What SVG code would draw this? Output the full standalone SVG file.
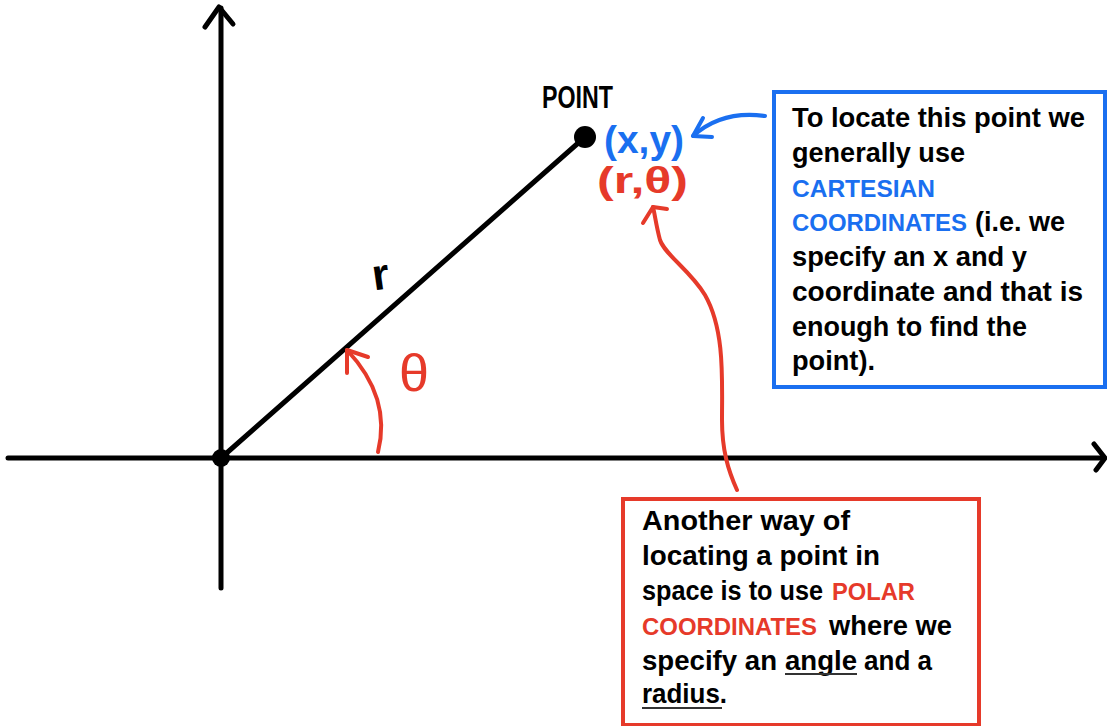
<svg xmlns="http://www.w3.org/2000/svg" width="1107" height="726" viewBox="0 0 1107 726">
<style>
.ax{stroke:#000;stroke-width:5;fill:none;stroke-linecap:round;stroke-linejoin:round}
.red{stroke:#e63a2a;stroke-width:4;fill:none;stroke-linecap:round;stroke-linejoin:round}
.blue{stroke:#1a6ff0;stroke-width:4;fill:none;stroke-linecap:round;stroke-linejoin:round}
.t{font-family:"Liberation Sans",Arial,sans-serif;font-size:27px;font-weight:700;fill:#000}
.c{font-size:24px}
.tb{fill:#1a6ff0}
.tr{fill:#e63a2a}
.ul{stroke:#333;stroke-width:2}
</style>
<rect width="1107" height="726" fill="#fff"/>
<g id="axes">
<path class="ax" d="M221,8 L221,588"/>
<path class="ax" d="M205,27 L219,7 L233,24"/>
<path class="ax" d="M8,458 L1104,458"/>
<path class="ax" d="M1094,444 L1105,458 L1096,470"/>
<circle cx="221" cy="458" r="9" fill="#000"/>
</g>
<g id="radius">
<path class="ax" d="M221,458 L585,137"/>
<text x="372" y="289" font-family="Liberation Sans,Arial,sans-serif" font-size="44" font-weight="700" fill="#000" transform="rotate(-8 384 275)">r</text>
</g>
<g id="point">
<circle cx="585" cy="137" r="11" fill="#000"/>
<text x="542" y="108" font-family="Liberation Sans,Arial,sans-serif" font-size="31" font-weight="700" textLength="71" lengthAdjust="spacingAndGlyphs">POINT</text>
<text x="604" y="153" font-family="Liberation Sans,Arial,sans-serif" font-size="38" font-weight="700" fill="#1a6ff0" textLength="80" lengthAdjust="spacingAndGlyphs">(x,y)</text>
<text x="597" y="193" font-family="Liberation Sans,Arial,sans-serif" font-size="36" font-weight="700" fill="#e63a2a" textLength="91" lengthAdjust="spacingAndGlyphs">(r,θ)</text>
</g>
<g id="angle">
<text x="399" y="391" font-family="Liberation Sans,Arial,sans-serif" font-size="52" fill="#e63a2a" textLength="30" lengthAdjust="spacingAndGlyphs">θ</text>
</g>
<g id="connectors">
<path class="red" d="M378,452 C386,420 380,385 347,350"/>
<path class="red" d="M347,373 L347,350 L368,357"/>
<path class="blue" d="M693,136 Q722,110 765,116"/>
<path class="blue" d="M703,118 L693,136 L712,137"/>
<path class="red" d="M737,490 C728,470 722,450 722,420 C722,380 725,330 705,295 C690,270 665,255 660,240 C656,225 655,215 653,207"/>
<path class="red" d="M643,223 L653,207 L667,209"/>
</g>
<g id="cartesian-box">
<rect x="774" y="92" width="331" height="295" fill="#fff" stroke="#1a6ff0" stroke-width="4"/>
<text class="t" x="792" y="127" textLength="293" lengthAdjust="spacingAndGlyphs">To locate this point we</text>
<text class="t" x="792" y="162" textLength="173" lengthAdjust="spacingAndGlyphs">generally use</text>
<text class="t c tb" x="792" y="197" textLength="143" lengthAdjust="spacingAndGlyphs">CARTESIAN</text>
<text class="t c tb" x="792" y="231" textLength="175" lengthAdjust="spacingAndGlyphs">COORDINATES</text>
<text class="t" x="975" y="231" textLength="90" lengthAdjust="spacingAndGlyphs">(i.e. we</text>
<text class="t" x="792" y="266" textLength="235" lengthAdjust="spacingAndGlyphs">specify an x and y</text>
<text class="t" x="792" y="301" textLength="291" lengthAdjust="spacingAndGlyphs">coordinate and that is</text>
<text class="t" x="792" y="336" textLength="235" lengthAdjust="spacingAndGlyphs">enough to find the</text>
<text class="t" x="792" y="370" textLength="83" lengthAdjust="spacingAndGlyphs">point).</text>
</g>
<g id="polar-box">
<rect x="623" y="499" width="356" height="226" fill="#fff" stroke="#e63a2a" stroke-width="4"/>
<text class="t" x="642" y="530" textLength="208" lengthAdjust="spacingAndGlyphs">Another way of</text>
<text class="t" x="642" y="565" textLength="238" lengthAdjust="spacingAndGlyphs">locating a point in</text>
<text class="t" x="642" y="600" textLength="181" lengthAdjust="spacingAndGlyphs">space is to use</text>
<text class="t c tr" x="832" y="600" textLength="83" lengthAdjust="spacingAndGlyphs">POLAR</text>
<text class="t c tr" x="642" y="635" textLength="175" lengthAdjust="spacingAndGlyphs">COORDINATES</text>
<text class="t" x="829" y="635" textLength="123" lengthAdjust="spacingAndGlyphs">where we</text>
<text class="t" x="642" y="670" textLength="135" lengthAdjust="spacingAndGlyphs">specify an</text>
<text class="t" x="785" y="670" textLength="72" lengthAdjust="spacingAndGlyphs">angle</text>
<text class="t" x="864" y="670" textLength="68" lengthAdjust="spacingAndGlyphs">and a</text>
<text class="t" x="642" y="703" textLength="85" lengthAdjust="spacingAndGlyphs">radius.</text>
<line class="ul" x1="785" y1="674" x2="857" y2="674"/>
<line class="ul" x1="642" y1="708" x2="722" y2="708"/>
</g>
</svg>
